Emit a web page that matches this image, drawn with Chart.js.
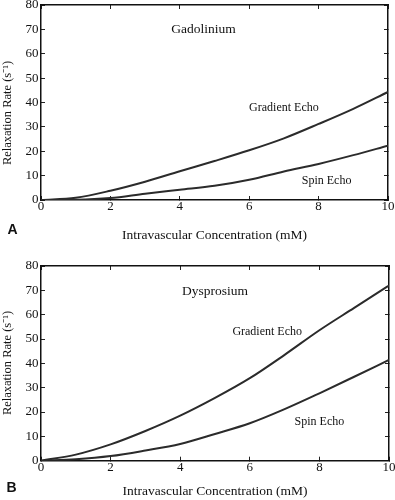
<!DOCTYPE html>
<html lang="en">
<head>
<meta charset="UTF-8">
<title>Relaxation Rate vs Intravascular Concentration</title>
<script src="https://cdn.jsdelivr.net/npm/chart.js"></script>
<style>
  body { margin: 0; background: #fff; }
  canvas { display: block; }
</style>
</head>
<body>
<canvas id="chartA" width="395" height="250"></canvas>
<canvas id="chartB" width="395" height="250"></canvas>
<script>
// values (relaxation rate, 1/s)
const concentration = [0, 1, 2, 3, 4, 5, 6, 7, 8, 9, 10];
const gadoliniumGradient = [0, 0.9, 3.8, 7.5, 11.8, 16.0, 20.4, 25.3, 31.2, 37.4, 44.3];
const gadoliniumSpin = [0, 0.1, 0.8, 2.6, 4.2, 5.8, 8.3, 11.7, 14.8, 18.4, 22.3];
const dysprosiumGradient = [0, 2.5, 6.7, 12.2, 18.5, 25.8, 33.9, 43.5, 53.6, 62.8, 72.0];
const dysprosiumSpin = [0, 0.6, 1.9, 4.2, 6.9, 11.0, 15.4, 21.2, 27.7, 34.5, 41.4];
const xTickValues = [0, 2, 4, 6, 8, 10];
const yTickValues = [0, 10, 20, 30, 40, 50, 60, 70, 80];

const yTitle = 'Relaxation Rate (s\u207B\u00B9)';
const xTitle = 'Intravascular Concentration (mM)';

Chart.defaults.font.family = '"Liberation Serif", serif';
Chart.defaults.color = '#111';

// text written inside the plot, the rotated y title and the panel letter
const panelText = {
  id: 'panelText',
  afterDraw(chart, args, opts) {
    const ctx = chart.ctx;
    const xs = chart.scales.x, ys = chart.scales.y;
    ctx.save();
    ctx.fillStyle = '#111';
    ctx.textAlign = 'center';
    ctx.textBaseline = 'middle';
    opts.notes.forEach(n => {
      ctx.font = n.size + 'px "Liberation Serif"';
      ctx.fillText(n.text, xs.getPixelForValue(n.x), ys.getPixelForValue(n.y));
    });
    ctx.font = 'bold 14px "Liberation Sans"';
    ctx.fillText(opts.letter, opts.letterX, opts.letterY);
    ctx.translate(8, 113);
    ctx.rotate(-Math.PI / 2);
    ctx.font = '12.5px "Liberation Serif"';
    ctx.fillText(yTitle, 0, 0);
    ctx.restore();
  }
};

function series(values) {
  return {
    data: concentration.map((c, i) => ({ x: c, y: values[i] })),
    borderColor: '#2b2b2b',
    borderWidth: 2,
    pointRadius: 0,
    fill: false,
    cubicInterpolationMode: 'monotone'
  };
}

function edgeAxis(position, ticks, min, max, size, extra) {
  const horizontal = position === 'top' || position === 'bottom';
  return Object.assign({
    type: 'linear',
    position: position,
    min: min,
    max: max,
    afterBuildTicks: s => { s.ticks = ticks.map(v => ({ value: v })); },
    afterFit: s => {
      if (horizontal) s.height = size; else s.width = size;
      s.paddingLeft = 0; s.paddingRight = 0; s.paddingTop = 0; s.paddingBottom = 0;
    },
    ticks: { display: false },
    grid: { drawOnChartArea: false, tickLength: -4, color: '#222', lineWidth: 1 },
    border: { color: '#111', width: 1.5 }
  }, extra || {});
}

function makePanel(id, gradient, spin, notes, p) {
  new Chart(document.getElementById(id), {
    type: 'line',
    data: { datasets: [series(gradient), series(spin)] },
    options: {
      responsive: false,
      animation: false,
      layout: { padding: { left: 0, right: p.right, top: p.top, bottom: 0 } },
      plugins: {
        legend: { display: false },
        tooltip: { enabled: false },
        panelText: { notes: notes, letter: p.letter, letterX: p.letterX, letterY: p.letterY }
      },
      scales: {
        x: edgeAxis('bottom', xTickValues, 0, 10, p.xHeight, {
          ticks: { display: true, padding: 3, font: { size: 13 } },
          title: {
            display: true,
            text: xTitle,
            font: { size: 13.5 },
            padding: { top: 0, bottom: p.titlePad }
          }
        }),
        x2: edgeAxis('top', xTickValues, 0, 10, 0),
        y: edgeAxis('left', yTickValues, 0, 80, 41, {
          ticks: { display: true, padding: 6.5, font: { size: 13 } }
        }),
        y2: edgeAxis('right', yTickValues, 0, 80, 0)
      }
    },
    plugins: [panelText]
  });
}

makePanel('chartA', gadoliniumGradient, gadoliniumSpin, [
  { text: 'Gadolinium', x: 4.68, y: 70, size: 13.5 },
  { text: 'Gradient Echo', x: 7.0, y: 37.9, size: 12 },
  { text: 'Spin Echo', x: 8.23, y: 7.8, size: 12 }
], { right: 7, top: 5, xHeight: 50, titlePad: 6.9, letter: 'A', letterX: 12.5, letterY: 230 });

makePanel('chartB', dysprosiumGradient, dysprosiumSpin, [
  { text: 'Dysprosium', x: 5.0, y: 69.5, size: 13.5 },
  { text: 'Gradient Echo', x: 6.5, y: 52.8, size: 12 },
  { text: 'Spin Echo', x: 8.0, y: 16, size: 12 }
], { right: 6, top: 16, xHeight: 39.3, titlePad: 0.2, letter: 'B', letterX: 11.5, letterY: 238 });
</script>
</body>
</html>
